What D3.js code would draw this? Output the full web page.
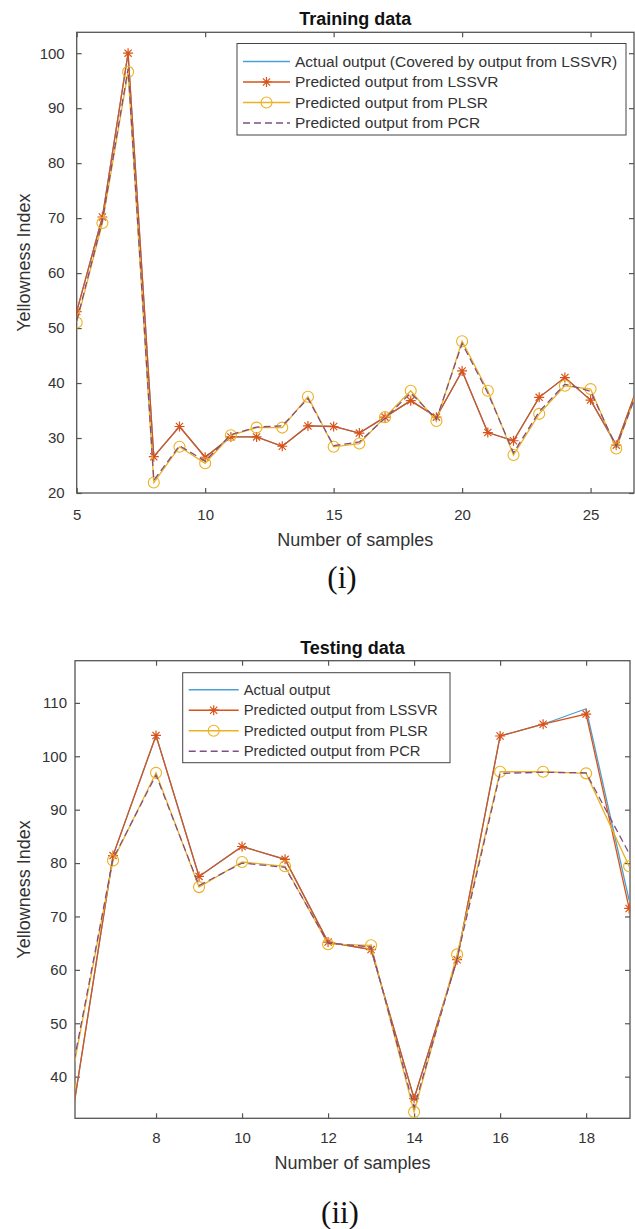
<!DOCTYPE html>
<html>
<head>
<meta charset="utf-8">
<script src="https://cdn.jsdelivr.net/npm/d3@7"></script>
<style>
  body { margin: 0; background: #fff; }
  svg text { font-family: "Liberation Sans", Arial, sans-serif; fill: #333; }
</style>
</head>
<body>
<svg id="chart" width="635" height="1229"></svg>
<script>
// ---- training data (i) ----
var trainSamples = [5, 6, 7, 8, 9, 10, 11, 12, 13, 14, 15, 16, 17, 18, 19, 20, 21, 22, 23, 24, 25, 26, 27];
var trainActual  = [53.0, 70.2, 100.0, 26.6, 32.1, 26.5, 30.2, 30.2, 28.5, 32.2, 32.1, 30.9, 33.8, 36.8, 33.8, 42.2, 31.0, 29.5, 37.4, 41.0, 36.9, 28.7, 41.5];
var trainLSSVR   = [53.0, 70.2, 100.0, 26.6, 32.1, 26.5, 30.2, 30.2, 28.5, 32.2, 32.1, 30.9, 33.8, 36.8, 33.8, 42.2, 31.0, 29.5, 37.4, 41.0, 36.9, 28.7, 41.5];
var trainPLSR    = [51.0, 69.1, 96.6, 21.9, 28.4, 25.4, 30.5, 31.9, 31.9, 37.5, 28.4, 29.0, 33.8, 38.6, 33.1, 47.6, 38.6, 26.9, 34.4, 39.5, 38.9, 28.1, 41.0];
var trainPCR     = [51.3, 69.5, 97.2, 22.3, 28.6, 25.8, 30.6, 32.0, 32.2, 37.2, 28.6, 29.3, 33.6, 38.2, 33.4, 47.2, 38.2, 27.3, 34.8, 39.8, 38.5, 28.4, 40.8];
var trainXTicks  = [5, 10, 15, 20, 25];
var trainYTicks  = [20, 30, 40, 50, 60, 70, 80, 90, 100];

// ---- testing data (ii) ----
var testSamples = [6, 7, 8, 9, 10, 11, 12, 13, 14, 15, 16, 17, 18, 19];
var testActual  = [30.0, 81.4, 103.9, 77.5, 83.1, 80.7, 65.2, 63.8, 35.9, 61.9, 103.8, 106.0, 108.9, 73.0];
var testLSSVR   = [30.0, 81.4, 103.9, 77.5, 83.1, 80.7, 65.2, 63.8, 35.9, 61.9, 103.8, 106.0, 107.9, 71.5];
var testPLSR    = [38.2, 80.5, 96.9, 75.5, 80.2, 79.4, 64.8, 64.6, 33.4, 62.9, 97.1, 97.1, 96.8, 79.4];
var testPCR     = [39.0, 80.8, 96.5, 75.8, 80.0, 79.2, 65.0, 64.3, 34.2, 62.2, 96.8, 97.0, 96.9, 81.8];
var testXTicks  = [8, 10, 12, 14, 16, 18];
var testYTicks  = [40, 50, 60, 70, 80, 90, 100, 110];

var seriesColors = ["#4a9fd4", "#d95319", "#edb120", "#7e4f86"];

var svg = d3.select("#chart");
var FONT = '"Liberation Sans", Arial, sans-serif';

function starPath(r) {
  var a = r * 0.72;
  return "M" + (-r) + ",0L" + r + ",0M0," + (-r) + "L0," + r +
    "M" + (-a) + "," + (-a) + "L" + a + "," + a +
    "M" + (-a) + "," + a + "L" + a + "," + (-a);
}

function drawPanel(p) {
  var x = d3.scaleLinear().domain(p.xDomain).range([p.left, p.right]);
  var y = d3.scaleLinear().domain(p.yDomain).range([p.bottom, p.top]);

  svg.append("clipPath").attr("id", "clip-" + p.id)
    .append("rect")
      .attr("x", p.left).attr("y", p.top)
      .attr("width", p.right - p.left).attr("height", p.bottom - p.top);

  var g = svg.append("g");

  // axes (MATLAB style: inward ticks on all four sides)
  g.append("g")
    .attr("transform", "translate(0," + p.bottom + ")")
    .call(d3.axisBottom(x).tickValues(p.xTicks).tickSizeInner(-5).tickSizeOuter(0).tickPadding(p.xPad));
  g.append("g")
    .attr("transform", "translate(0," + p.top + ")")
    .call(d3.axisTop(x).tickValues(p.xTicks).tickSizeInner(-5).tickSizeOuter(0).tickFormat(""));
  g.append("g")
    .attr("transform", "translate(" + p.left + ",0)")
    .call(d3.axisLeft(y).tickValues(p.yTicks).tickSizeInner(-5).tickSizeOuter(0).tickPadding(p.yPad));
  g.append("g")
    .attr("transform", "translate(" + p.right + ",0)")
    .call(d3.axisRight(y).tickValues(p.yTicks).tickSizeInner(-5).tickSizeOuter(0).tickFormat(""));

  g.selectAll(".domain").remove();
  g.selectAll(".tick line").attr("stroke", "#555").attr("stroke-width", 1.2);
  g.selectAll(".tick text").attr("fill", "#333").style("font-family", FONT).style("font-size", p.tickFont + "px");

  g.append("rect")
    .attr("x", p.left).attr("y", p.top)
    .attr("width", p.right - p.left).attr("height", p.bottom - p.top)
    .attr("fill", "none").attr("stroke", "#555").attr("stroke-width", 1.3);

  // series
  var series = [
    { values: p.actual, color: seriesColors[0], dash: null, marker: null },
    { values: p.lssvr,  color: seriesColors[1], dash: null, marker: "star" },
    { values: p.plsr,   color: seriesColors[2], dash: null, marker: "circle" },
    { values: p.pcr,    color: seriesColors[3], dash: "7,4", marker: null }
  ];

  var plot = g.append("g").attr("clip-path", "url(#clip-" + p.id + ")");
  var line = d3.line()
    .x(function(d) { return x(d[0]); })
    .y(function(d) { return y(d[1]); });

  series.forEach(function(s) {
    var pts = p.samples.map(function(v, i) { return [v, s.values[i]]; });
    plot.append("path")
      .datum(pts)
      .attr("d", line)
      .attr("fill", "none")
      .attr("stroke", s.color)
      .attr("stroke-width", 1.3)
      .attr("stroke-dasharray", s.dash);
    if (s.marker === "star") {
      plot.selectAll(null).data(pts).enter().append("path")
        .attr("d", starPath(5))
        .attr("transform", function(d) { return "translate(" + x(d[0]) + "," + y(d[1]) + ")"; })
        .attr("stroke", s.color).attr("stroke-width", 1.2).attr("fill", "none");
    } else if (s.marker === "circle") {
      plot.selectAll(null).data(pts).enter().append("circle")
        .attr("cx", function(d) { return x(d[0]); })
        .attr("cy", function(d) { return y(d[1]); })
        .attr("r", 5.5)
        .attr("stroke", s.color).attr("stroke-width", 1.1).attr("fill", "none");
    }
  });

  // titles and labels
  svg.append("text")
    .attr("x", (p.left + p.right) / 2).attr("y", p.titleY)
    .attr("text-anchor", "middle")
    .style("font-size", "18px").style("font-weight", "bold")
    .style("fill", "#111")
    .text(p.title);

  svg.append("text")
    .attr("x", (p.left + p.right) / 2).attr("y", p.xLabelY)
    .attr("text-anchor", "middle")
    .style("font-size", "18px")
    .text("Number of samples");

  svg.append("text")
    .attr("transform", "translate(" + p.yLabelX + "," + ((p.top + p.bottom) / 2) + ") rotate(-90)")
    .attr("text-anchor", "middle")
    .style("font-size", "18px")
    .text("Yellowness Index");

  svg.append("text")
    .attr("x", p.tagX).attr("y", p.tagY)
    .attr("text-anchor", "middle")
    .style("font-family", '"Liberation Serif", "Times New Roman", serif')
    .style("font-size", "31px")
    .style("fill", "#111")
    .text(p.tag);

  // legend
  var lg = svg.append("g");
  lg.append("rect")
    .attr("x", p.legend.x).attr("y", p.legend.y)
    .attr("width", p.legend.w).attr("height", p.legend.h)
    .attr("fill", "#fff").attr("stroke", "#444").attr("stroke-width", 1);

  series.forEach(function(s, i) {
    var ry = p.legend.y + p.legend.first + i * p.legend.step;
    var x0 = p.legend.x + 6, x1 = x0 + p.legend.sample;
    lg.append("line")
      .attr("x1", x0).attr("x2", x1).attr("y1", ry).attr("y2", ry)
      .attr("stroke", s.color).attr("stroke-width", 1.4)
      .attr("stroke-dasharray", s.dash);
    if (s.marker === "star") {
      lg.append("path").attr("d", starPath(5))
        .attr("transform", "translate(" + ((x0 + x1) / 2) + "," + ry + ")")
        .attr("stroke", s.color).attr("stroke-width", 1.2).attr("fill", "none");
    } else if (s.marker === "circle") {
      lg.append("circle").attr("cx", (x0 + x1) / 2).attr("cy", ry).attr("r", 5.5)
        .attr("stroke", s.color).attr("stroke-width", 1.1).attr("fill", "none");
    }
    lg.append("text")
      .attr("x", x1 + 5).attr("y", ry).attr("dy", "0.35em")
      .style("font-size", p.legend.font + "px")
      .text(p.legendLabels[i]);
  });
}

drawPanel({
  id: "train", title: "Training data", tag: "(i)",
  samples: trainSamples, actual: trainActual, lssvr: trainLSSVR, plsr: trainPLSR, pcr: trainPCR,
  xTicks: trainXTicks, yTicks: trainYTicks,
  xDomain: [5, 26.69], yDomain: [20, 103.8],
  left: 76.7, right: 634, top: 32.3, bottom: 493,
  xPad: 16, yPad: 12, tickFont: 15,
  titleY: 24.5, xLabelY: 546, yLabelX: 30, tagX: 342, tagY: 588,
  legend: { x: 237, y: 43.5, w: 389, h: 91.5, first: 18, step: 20.5, sample: 47, font: 15.5 },
  legendLabels: ["Actual output (Covered by output from LSSVR)", "Predicted output from LSSVR",
                 "Predicted output from PLSR", "Predicted output from PCR"]
});

drawPanel({
  id: "test", title: "Testing data", tag: "(ii)",
  samples: testSamples, actual: testActual, lssvr: testLSSVR, plsr: testPLSR, pcr: testPCR,
  xTicks: testXTicks, yTicks: testYTicks,
  xDomain: [6.116, 19.02], yDomain: [32.2, 117.9],
  left: 75, right: 630, top: 660.7, bottom: 1118.3,
  xPad: 14, yPad: 8, tickFont: 15,
  titleY: 653.5, xLabelY: 1169, yLabelX: 30, tagX: 340, tagY: 1223,
  legend: { x: 182.7, y: 672.7, w: 267.3, h: 90, first: 17, step: 20.5, sample: 50, font: 14.8 },
  legendLabels: ["Actual output", "Predicted output from LSSVR",
                 "Predicted output from PLSR", "Predicted output from PCR"]
});
</script>
</body>
</html>
